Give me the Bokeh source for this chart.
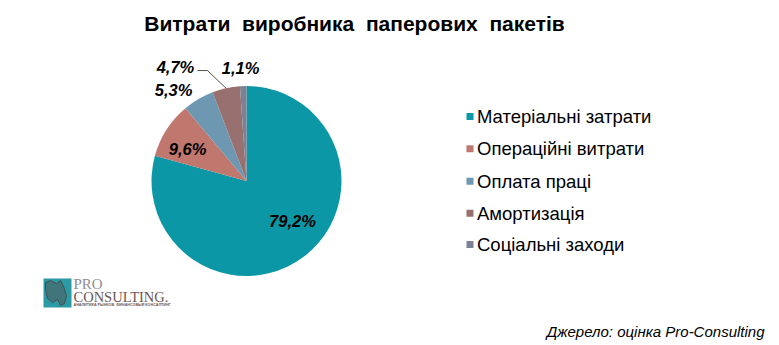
import numpy as np
from bokeh.plotting import figure
from bokeh.models import Range1d, ColumnDataSource
from bokeh.core.properties import value
from bokeh.embed import file_html
from bokeh.resources import INLINE

# ---- data ----
title = "Витрати \u00a0виробника \u00a0паперових \u00a0пакетів"
categories = ["Матеріальні затрати", "Операційні витрати", "Оплата праці",
              "Амортизація", "Соціальні заходи"]
shares = [79.2, 9.6, 5.3, 4.7, 1.1]
share_labels = ["79,2%", "9,6%", "5,3%", "4,7%", "1,1%"]
source_note = "Джерело: оцінка Pro-Consulting"

# ---- style ----
colors = ["#0c97a6", "#c0776d", "#6e98b2", "#98706f", "#7d8193"]
W, H = 779, 345
cx, cy, R = 246, H - 180.5, 95
# label placement: radius factor and angular nudge (deg) per slice
label_rf = [0.638, 0.706, 1.224, 1.418, 1.19]
label_dt = [12, 4.2, 8.4, 19.4, 1.0]

p = figure(width=W, height=H, x_range=Range1d(0, W), y_range=Range1d(0, H),
           output_backend="svg", toolbar_location=None, min_border=0,
           x_axis_type=None, y_axis_type=None, title_location=None)
p.grid.visible = False
p.outline_line_color = None
p.background_fill_color = "white"
p.border_fill_color = "white"

total = sum(shares)
fr = np.array(shares) / total
cum = np.concatenate([[0], np.cumsum(fr)])
start = np.pi / 2 - cum[:-1] * 2 * np.pi
end = np.pi / 2 - cum[1:] * 2 * np.pi
mid = (start + end) / 2

src = ColumnDataSource(dict(start=start, end=end, color=colors, cat=categories))
p.wedge(x=cx, y=cy, radius=R, start_angle="start", end_angle="end",
        direction="clock", fill_color="color", line_color=None, source=src)

# data labels (centre positions)
lx = np.array([cx + R * rf * np.cos(m + np.radians(d)) for rf, m, d in zip(label_rf, mid, label_dt)])
ly = np.array([cy + R * rf * np.sin(m + np.radians(d)) for rf, m, d in zip(label_rf, mid, label_dt)])
p.text(x=lx, y=ly, text=share_labels, text_align="center", text_baseline="middle",
       text_font=value("Liberation Sans"), text_font_size="16.5px",
       text_font_style="bold italic", text_color="black")

# leader line for the 4,7% label
m4 = mid[3]
ex, ey = cx + R * np.cos(m4), cy + R * np.sin(m4)
p.line(x=[lx[3] + 22, lx[3] + 32, ex], y=[ly[3] - 4, ly[3] - 4, ey],
       line_color="#222222", line_width=0.8)

# title
p.text(x=[354], y=[H - 23], text=[title], text_align="center",
       text_baseline="middle", text_font=value("Liberation Sans"),
       text_font_size="21px", text_font_style="bold", text_color="black")

# legend
leg_c = np.array([116, 148.3, 180.7, 212.7, 244])
p.rect(x=[469.5] * 5, y=H - leg_c, width=7, height=7, fill_color=colors, line_color=None)
p.text(x=[476.5] * 5, y=H - leg_c, text=categories, text_baseline="middle",
       text_font=value("Liberation Sans"), text_font_size="18.5px", text_color="black")

# source note
p.text(x=[764], y=[H - 331], text=[source_note], text_align="right",
       text_baseline="middle", text_font=value("Liberation Sans"),
       text_font_size="15px", text_font_style="italic", text_color="black")

# logo
p.rect(x=[57], y=[H - 292.5], width=28, height=29, fill_color="#2a9aa5", line_color=None)
p.patch(x=[45, 50, 56, 60, 63, 66, 64, 60, 57, 52, 47, 45],
        y=[H - 282, H - 280, H - 283, H - 280, H - 286, H - 295, H - 303, H - 305,
           H - 299, H - 302, H - 298, H - 290],
        fill_color="#5b4a4a", fill_alpha=0.45, line_color="#4a3a3a", line_width=0.7)
p.text(x=[73], y=[H - 283], text=["PRO"], text_baseline="middle",
       text_font=value("Liberation Serif"), text_font_size="15px", text_color="#8e8e8e")
p.text(x=[73], y=[H - 296.5], text=["CONSULTING."], text_baseline="middle",
       text_font=value("Liberation Serif"), text_font_size="14.5px", text_color="#6b5753")
p.text(x=[73], y=[H - 304.5], text=["АНАЛИТИКА РЫНКОВ. ФИНАНСОВЫЙ КОНСАЛТИНГ"],
       text_baseline="middle", text_font=value("Liberation Sans"),
       text_font_size="3.7px", text_font_style="bold", text_color="#6b5753")

open("out.html", "w").write(file_html(p, INLINE))
